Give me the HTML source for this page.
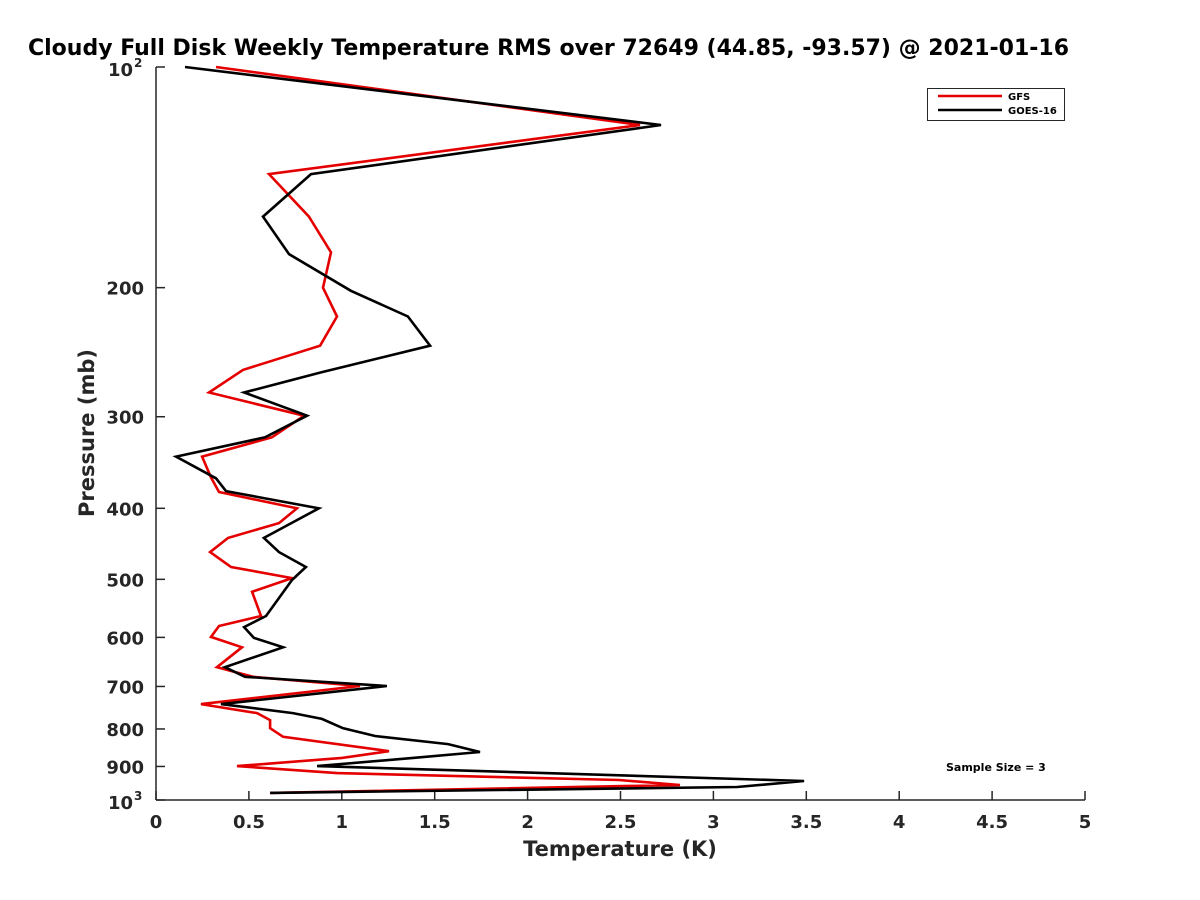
<!DOCTYPE html>
<html><head><meta charset="utf-8"><style>
html,body{margin:0;padding:0;background:#fff;overflow:hidden;}
svg{display:block;font-family:"DejaVu Sans","Liberation Sans",sans-serif;}
</style></head><body>
<svg id="chart" width="1200" height="900" viewBox="0 0 1200 900">
<rect width="1200" height="900" fill="#fff"/>
<text x="28" y="55" font-size="22" font-weight="bold" fill="#000">Cloudy Full Disk Weekly Temperature RMS over 72649 (44.85, -93.57) @ 2021-01-16</text>
<g id="axes"></g>
<g id="series"></g>
<text x="620" y="856" font-size="21" font-weight="bold" fill="#262626" text-anchor="middle">Temperature (K)</text>
<text transform="translate(94,433) rotate(-90)" font-size="21" font-weight="bold" fill="#262626" text-anchor="middle">Pressure (mb)</text>
<g>
<rect x="927.5" y="88.5" width="137" height="32" fill="#fff" stroke="#262626" stroke-width="1"/>
<line x1="938" y1="96" x2="1002" y2="96" stroke="#e50000" stroke-width="2.5"/>
<text x="1008" y="100" font-size="10" font-weight="bold" fill="#000">GFS</text>
<line x1="938" y1="110" x2="1002" y2="110" stroke="#000" stroke-width="2.5"/>
<text x="1008" y="114" font-size="10" font-weight="bold" fill="#000">GOES-16</text>
</g>
<text x="946" y="771" font-size="11" font-weight="bold" fill="#000">Sample Size = 3</text>
</svg>
<script>
const xTicks = [0, 0.5, 1, 1.5, 2, 2.5, 3, 3.5, 4, 4.5, 5];
const xTickLabels = ["0","0.5","1","1.5","2","2.5","3","3.5","4","4.5","5"];
const yTicks = [100, 200, 300, 400, 500, 600, 700, 800, 900, 1000];
const yTickLabels = ["10^2","200","300","400","500","600","700","800","900","10^3"];
const gfsPressure = [100,120,140,160,179,200,219,240,259,278,299,320,340,363,380,400,419,439,459,481,498,520,561,579,599,619,659,679,699,740,761,778,798,820,858,876,899,919,939,954,978];
const gfsTemp = [0.323,2.605,0.608,0.823,0.942,0.899,0.974,0.883,0.468,0.285,0.797,0.624,0.248,0.296,0.339,0.759,0.662,0.388,0.291,0.404,0.732,0.517,0.565,0.339,0.296,0.463,0.328,0.522,1.098,0.242,0.544,0.614,0.614,0.684,1.254,1.001,0.436,0.974,2.492,2.82,0.614];
const goesPressure = [100,120,140,160,180,202,219,240,261,278,299,320,340,364,379,400,439,459,481,501,561,581,601,619,659,679,699,740,761,775,798,818,839,860,876,899,942,960,978];
const goesTemp = [0.156,2.718,0.834,0.576,0.716,1.049,1.356,1.475,0.888,0.474,0.813,0.587,0.108,0.323,0.377,0.877,0.581,0.662,0.807,0.732,0.592,0.474,0.527,0.684,0.371,0.479,1.243,0.350,0.737,0.893,1.006,1.179,1.572,1.744,1.383,0.867,3.488,3.127,0.614];

const NS = "http://www.w3.org/2000/svg";
const X0 = 156, X1 = 1085, Y0 = 67, Y1 = 800;
function xScale(v){ return X0 + (v - 0) / 5 * (X1 - X0); }
function yScale(p){ return Y0 + (Math.log10(p) - 2) * (Y1 - Y0); }
function mk(tag, attrs){ const e = document.createElementNS(NS, tag); for (const k in attrs) e.setAttribute(k, attrs[k]); return e; }

const axes = document.getElementById('axes');
const yAxis = mk('line', {x1:X0, y1:Y0, x2:X0, y2:Y1, stroke:'#262626', 'stroke-width':1.5});


axes.appendChild(yAxis);
const xAxis = mk('line', {x1:X0, y1:Y1, x2:X1, y2:Y1, stroke:'#262626', 'stroke-width':1.5});


axes.appendChild(xAxis);

xTicks.forEach((v, i) => {
  const x = xScale(v);
  const t = mk('line', {x1:x, y1:Y1, x2:x, y2:Y1-9, stroke:'#262626', 'stroke-width':1.5});
  
  
  axes.appendChild(t);
  const l = mk('text', {x:x, y:Y1+28, 'font-size':18, 'font-weight':'bold', fill:'#262626', 'text-anchor':'middle'});
  l.textContent = xTickLabels[i];
  
  
  axes.appendChild(l);
});
yTicks.forEach((p, i) => {
  const y = yScale(p);
  const t = mk('line', {x1:X0, y1:y, x2:X0+9, y2:y, stroke:'#262626', 'stroke-width':1.5});
  
  
  axes.appendChild(t);
  const lab = yTickLabels[i];
  if (lab.indexOf('^') >= 0) {
    const parts = lab.split('^');
    const base = mk('text', {x:X0-23, y:y+9, 'font-size':18, 'font-weight':'bold', fill:'#262626', 'text-anchor':'end'});
    base.textContent = parts[0];
    
    
    axes.appendChild(base);
    const sup = mk('text', {x:X0-22, y:y, 'font-size':12, 'font-weight':'bold', fill:'#262626', 'text-anchor':'start'});
    sup.textContent = parts[1];
    
    
    axes.appendChild(sup);
  } else {
    const l = mk('text', {x:X0-12, y:y+7, 'font-size':18, 'font-weight':'bold', fill:'#262626', 'text-anchor':'end'});
    l.textContent = lab;
    
    
    axes.appendChild(l);
  }
});

const series = document.getElementById('series');
function drawLine(ps, ts, color, name){
  const pts = ps.map((p, i) => xScale(ts[i]).toFixed(1) + ',' + yScale(p).toFixed(1)).join(' ');
  const pl = mk('polyline', {points:pts, fill:'none', stroke:color, 'stroke-width':2.6, 'stroke-linejoin':'miter'});
  
  
  series.appendChild(pl);
}
drawLine(gfsPressure, gfsTemp, '#e50000', 'gfs-line');
drawLine(goesPressure, goesTemp, '#000000', 'goes16-line');
</script>
</body></html>
